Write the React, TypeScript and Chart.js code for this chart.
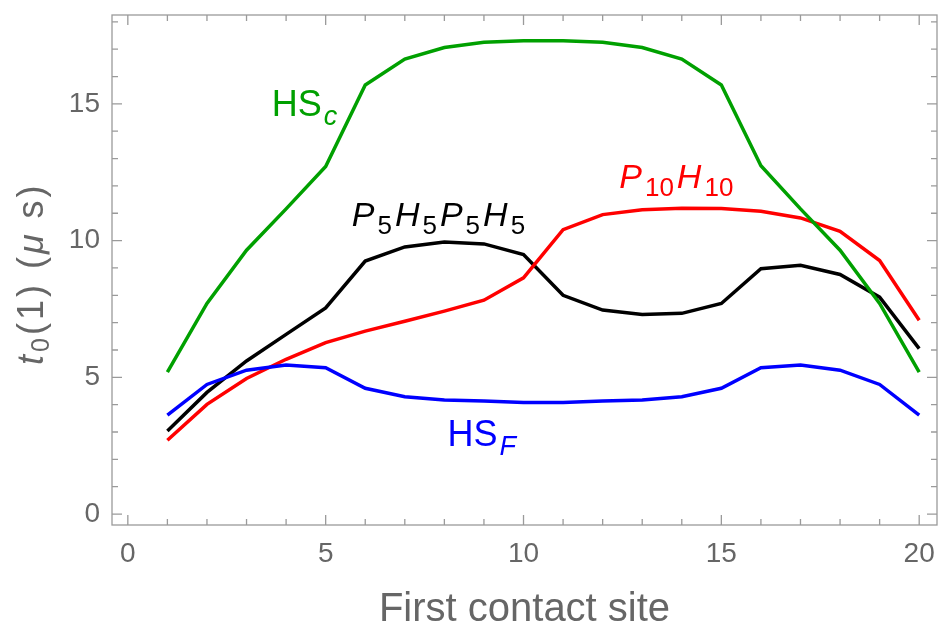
import React, { useEffect, useRef } from "react";
import { Chart, registerables } from "chart.js";

Chart.register(...registerables);

// ---------- data ----------
const sites = [1, 2, 3, 4, 5, 6, 7, 8, 9, 10, 11, 12, 13, 14, 15, 16, 17, 18, 19, 20];
const hsC = [5.19, 7.7, 9.65, 11.16, 12.71, 15.69, 16.64, 17.06, 17.25, 17.31, 17.31, 17.25, 17.06, 16.64, 15.69, 12.74, 11.16, 9.65, 7.7, 5.19];
const hsF = [3.62, 4.74, 5.26, 5.45, 5.35, 4.6, 4.29, 4.17, 4.13, 4.08, 4.08, 4.13, 4.17, 4.29, 4.6, 5.35, 5.45, 5.26, 4.74, 3.62];
const p5h5p5h5 = [3.04, 4.45, 5.6, 6.57, 7.54, 9.25, 9.77, 9.95, 9.88, 9.49, 8.0, 7.46, 7.3, 7.34, 7.7, 8.97, 9.1, 8.76, 7.93, 6.05];
const p10h10 = [2.7, 4.01, 4.96, 5.66, 6.27, 6.69, 7.05, 7.42, 7.82, 8.64, 10.4, 10.95, 11.13, 11.18, 11.17, 11.07, 10.83, 10.34, 9.27, 7.09];

const xTickValues = [0, 5, 10, 15, 20];
const yTickValues = [0, 5, 10, 15];
const xFrameTicks = [0, 1, 2, 3, 4, 5, 6, 7, 8, 9, 10, 11, 12, 13, 14, 15, 16, 17, 18, 19, 20];
const yFrameTicks = [0, 1, 2, 3, 4, 5, 6, 7, 8, 9, 10, 11, 12, 13, 14, 15, 16, 17, 18];

const xTitle = "First contact site";

// ---------- styles ----------
const FAMILY = '"Liberation Sans", Arial, sans-serif';
const GREEN = "#00a000";
const RED = "#ff0000";
const BLUE = "#0000ff";
const BLACK = "#000000";
const GRAY = "#666666";
const FRAME = "#9a9a9a";

type Seg = { t: string; it?: boolean; sub?: boolean };
type RichOpt = { size: number; subSize: number; drop: number; gap: number; color: string };

function drawRich(ctx: CanvasRenderingContext2D, segs: Seg[], x: number, y: number, o: RichOpt) {
  let cx = x;
  ctx.textAlign = "left";
  ctx.textBaseline = "alphabetic";
  ctx.fillStyle = o.color;
  for (const s of segs) {
    const sz = s.sub ? o.subSize : o.size;
    ctx.font = `${s.it ? "italic " : ""}${sz}px ${FAMILY}`;
    ctx.fillText(s.t, cx, y + (s.sub ? o.drop : 0));
    cx += ctx.measureText(s.t).width + o.gap;
  }
}

const curveLabels: { segs: Seg[]; x: number; y: number; opt: RichOpt }[] = [
  {
    segs: [{ t: "HS" }, { t: "c", it: true, sub: true }],
    x: 3.64, y: 14.56,
    opt: { size: 36, subSize: 27, drop: 9, gap: 2, color: GREEN },
  },
  {
    segs: [{ t: "P", it: true }, { t: "5", sub: true }, { t: "H", it: true }, { t: "5", sub: true }, { t: "P", it: true }, { t: "5", sub: true }, { t: "H", it: true }, { t: "5", sub: true }],
    x: 5.66, y: 10.52,
    opt: { size: 34, subSize: 26, drop: 8, gap: 3, color: BLACK },
  },
  {
    segs: [{ t: "P", it: true }, { t: "10", sub: true }, { t: "H", it: true }, { t: "10", sub: true }],
    x: 12.42, y: 11.92,
    opt: { size: 34, subSize: 26, drop: 8, gap: 3, color: RED },
  },
  {
    segs: [{ t: "HS" }, { t: "F", it: true, sub: true }],
    x: 8.08, y: 2.49,
    opt: { size: 36, subSize: 27, drop: 9, gap: 2, color: BLUE },
  },
];

const yTitleSegs: Seg[] = [
  { t: "t", it: true }, { t: "0", sub: true }, { t: "(" }, { t: "1" }, { t: ")" }, { t: " " },
  { t: "(" }, { t: "\u03bc", it: true }, { t: " " }, { t: "s" }, { t: ")" },
];

const framePlugin = {
  id: "frameTicks",
  beforeDatasetsDraw(chart: any) {
    const { ctx, chartArea: a, scales } = chart;
    const xs = scales.x;
    const ys = scales.y;
    ctx.save();
    ctx.strokeStyle = FRAME;
    ctx.lineWidth = 1.3;
    ctx.strokeRect(a.left, a.top, a.right - a.left, a.bottom - a.top);
    ctx.beginPath();
    for (const v of xFrameTicks) {
      const p = xs.getPixelForValue(v);
      const len = v % 5 === 0 ? 10 : 6;
      ctx.moveTo(p, a.bottom);
      ctx.lineTo(p, a.bottom - len);
      ctx.moveTo(p, a.top);
      ctx.lineTo(p, a.top + len);
    }
    for (const v of yFrameTicks) {
      const p = ys.getPixelForValue(v);
      const len = v % 5 === 0 ? 10 : 6;
      ctx.moveTo(a.left, p);
      ctx.lineTo(a.left + len, p);
      ctx.moveTo(a.right, p);
      ctx.lineTo(a.right - len, p);
    }
    ctx.stroke();
    ctx.restore();
  },
  afterDatasetsDraw(chart: any) {
    const { ctx, chartArea: a, scales } = chart;
    const xs = scales.x;
    const ys = scales.y;
    ctx.save();
    for (const l of curveLabels) {
      drawRich(ctx, l.segs, xs.getPixelForValue(l.x), ys.getPixelForValue(l.y), l.opt);
    }
    // x axis title
    ctx.font = `40px ${FAMILY}`;
    ctx.fillStyle = GRAY;
    ctx.textAlign = "center";
    ctx.textBaseline = "alphabetic";
    ctx.fillText(xTitle, (a.left + a.right) / 2, 621);
    // y axis title (rotated)
    ctx.translate(43, 365);
    ctx.rotate(-Math.PI / 2);
    drawRich(ctx, yTitleSegs, 0, 0, { size: 36, subSize: 25, drop: 6, gap: 3, color: GRAY });
    ctx.restore();
  },
};

const zeroPad = (s: any) => {
  s.paddingTop = 0;
  s.paddingBottom = 0;
  s.paddingLeft = 0;
  s.paddingRight = 0;
};

export default function App() {
  const ref = useRef<HTMLCanvasElement | null>(null);

  useEffect(() => {
    if (!ref.current) return;
    const mk = (vals: number[]) => sites.map((s, i) => ({ x: s, y: vals[i] }));
    const ds = (label: string, vals: number[], color: string) => ({
      label,
      data: mk(vals),
      borderColor: color,
      backgroundColor: color,
      borderWidth: 3.5,
      pointRadius: 0,
      tension: 0,
      fill: false,
    });
    const chart = new Chart(ref.current, {
      type: "line",
      data: {
        datasets: [
          ds("HSc", hsC, GREEN),
          ds("HSF", hsF, BLUE),
          ds("P10H10", p10h10, RED),
          ds("P5H5P5H5", p5h5p5h5, BLACK),
        ],
      },
      options: {
        animation: false,
        responsive: false,
        devicePixelRatio: 1,
        layout: { autoPadding: false, padding: { top: 15, right: 2, left: 0, bottom: 0 } },
        plugins: { legend: { display: false }, tooltip: { enabled: false } },
        scales: {
          x: {
            type: "linear",
            min: -0.4,
            max: 20.45,
            grid: { display: false, drawTicks: false },
            border: { display: false },
            ticks: { font: { size: 28, family: FAMILY }, color: GRAY, padding: 12 },
            afterBuildTicks: (s: any) => {
              s.ticks = xTickValues.map((v) => ({ value: v }));
            },
            afterFit: (s: any) => {
              s.height = 104;
              zeroPad(s);
            },
          },
          y: {
            type: "linear",
            min: -0.4,
            max: 18.25,
            grid: { display: false, drawTicks: false },
            border: { display: false },
            ticks: { font: { size: 28, family: FAMILY }, color: GRAY, padding: 12 },
            afterBuildTicks: (s: any) => {
              s.ticks = yTickValues.map((v) => ({ value: v }));
            },
            afterFit: (s: any) => {
              s.width = 112;
              zeroPad(s);
            },
          },
        },
      },
      plugins: [framePlugin],
    } as any);
    return () => chart.destroy();
  }, []);

  return (
    <div style={{ position: "absolute", left: 0, top: 0, width: 939, height: 629, background: "#fff" }}>
      <canvas ref={ref} width={939} height={629} style={{ width: 939, height: 629 }} />
    </div>
  );
}
